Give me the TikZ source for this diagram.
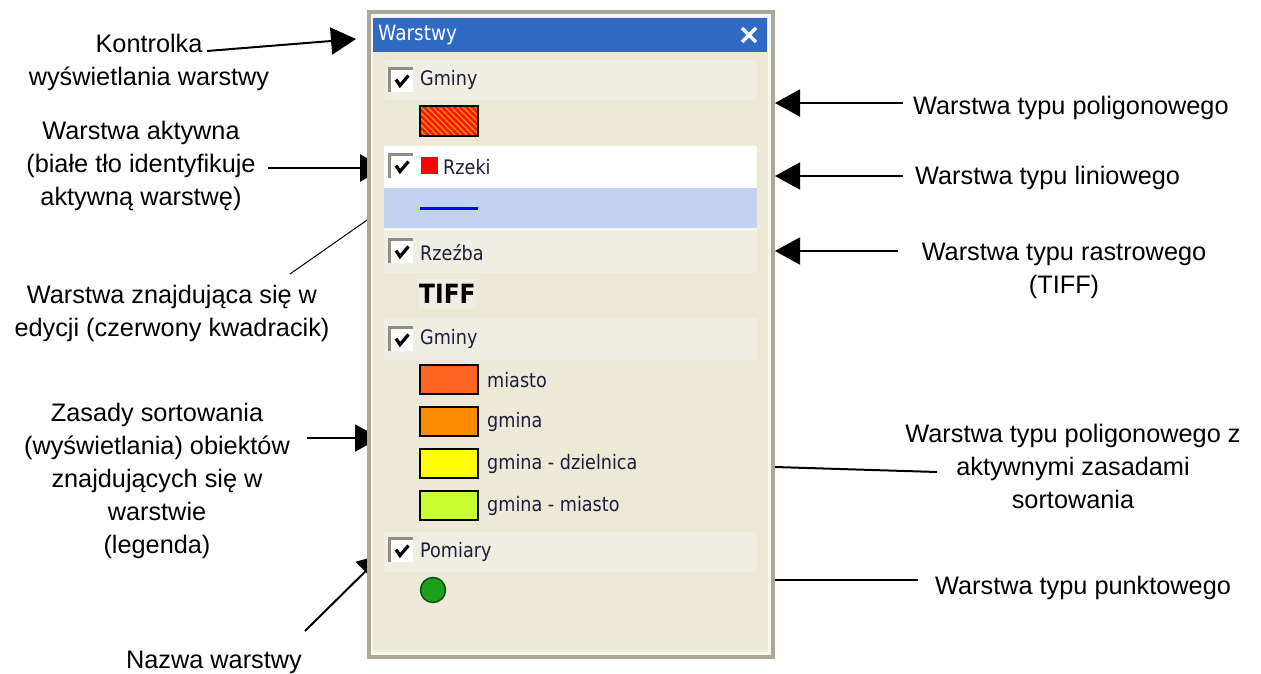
\documentclass[tikz,border=0pt]{standalone}
\usepackage{fontspec}
\setmainfont{Liberation Sans}
\newfontfamily\uifont[FakeStretch=0.88]{DejaVu Sans}
\usetikzlibrary{arrows.meta}
\definecolor{panelgray}{HTML}{ACA899}
\definecolor{bodybg}{HTML}{ECE9D8}
\definecolor{bandbg}{HTML}{F0EEE3}
\definecolor{titleblue}{HTML}{316AC5}
\definecolor{selbg}{HTML}{C1D3EF}
\definecolor{cbgray}{HTML}{8F8D84}
\definecolor{uitext}{HTML}{1E1E3C}
\definecolor{hatchred}{HTML}{FF1200}
\definecolor{hatchstripe}{HTML}{FF9A00}
\definecolor{cmiasto}{HTML}{FF6623}
\definecolor{cgmina}{HTML}{FF8C00}
\definecolor{cdziel}{HTML}{FFFF00}
\definecolor{cgmiasto}{HTML}{C8FF32}
\definecolor{ptgreen}{HTML}{1C9F1C}
\definecolor{ptdark}{HTML}{0E4D0E}
\definecolor{tiffbg}{HTML}{EFEDE4}
\tikzset{
  lbl/.style={font=\fontsize{25.3}{33}\selectfont, align=center, inner sep=0pt, text=black},
  arr/.style={line width=2pt, -{Triangle[length=25pt,width=27pt]}},
  plainline/.style={line width=2pt},
  thinline/.style={line width=1pt},
  ui/.style={font=\uifont\fontsize{20}{20}\selectfont, text=uitext, inner sep=0pt, anchor=west},
  swatch/.style={draw=black, line width=1.5pt},
  chkbox/.pic={
    \fill[white] (0,0) rectangle (25,25);
    \draw[cbgray, line width=3pt] (1.5,25) -- (1.5,1.5) -- (25,1.5);
    \draw[black, line width=3.2pt, line join=miter] (8,12.5) -- (12,18.5) -- (20.5,8.5);
  }
}
\begin{document}
\begin{tikzpicture}[x=1pt,y=-1pt]
\useasboundingbox (0,0) rectangle (1261,674);
\fill[white] (0,0) rectangle (1261,674);

% ---------- left labels ----------
\node[lbl] (kontr) at (149,62) {Kontrolka\\wyświetlania warstwy};
\node[lbl] (aktyw) at (141,166) {Warstwa aktywna\\(białe tło identyfikuje\\aktywną warstwę)};
\node[lbl] (edyc) at (172,313) {Warstwa znajdująca się w\\edycji (czerwony kwadracik)};
\node[lbl] (zasady) at (157,481) {Zasady sortowania\\(wyświetlania) obiektów\\znajdujących się w\\warstwie\\(legenda)};
\node[lbl] (nazwa) at (214,662) {Nazwa warstwy};

% ---------- right labels ----------
\node[lbl, anchor=west] (poli) at (913,108) {Warstwa typu poligonowego};
\node[lbl, anchor=west] (lini) at (915,178) {Warstwa typu liniowego};
\node[lbl] (rast) at (1064,271) {Warstwa typu rastrowego\\(TIFF)};
\node[lbl] (polisort) at (1073,466) {Warstwa typu poligonowego z\\aktywnymi zasadami\\sortowania};
\node[lbl, anchor=west] (punkt) at (935,588) {Warstwa typu punktowego};

% ---------- connector end points ----------
\coordinate (kontrS) at (207,51);
\coordinate (kontrT) at (356,39);
\coordinate (aktywS) at (268,168);
\coordinate (aktywT) at (385,168);
\coordinate (edycS) at (290,274);
\coordinate (edycT) at (430,176);
\coordinate (zasadyS) at (307,438);
\coordinate (zasadyT) at (380,438);
\coordinate (nazwaS) at (305,631);
\coordinate (nazwaT) at (383,554);
\coordinate (poliS) at (903,103);
\coordinate (poliT) at (775,103);
\coordinate (liniS) at (903,176);
\coordinate (liniT) at (775,176);
\coordinate (rastS) at (898,251);
\coordinate (rastT) at (775,251);
\coordinate (polisortS) at (937,472);
\coordinate (polisortT) at (775,467);
\coordinate (punktS) at (918,580);
\coordinate (punktT) at (775,580);

% connectors going behind the panel
\draw[arr] (kontrS) -- (kontrT);
\draw[arr] (aktywS) -- (aktywT);
\draw[thinline] (edycS) -- (edycT);
\draw[arr] (zasadyS) -- (zasadyT);
\draw[arr] (nazwaS) -- (nazwaT);

% ---------- panel ----------
\fill[panelgray] (367,10) rectangle (775,659);
\fill[white!60!bodybg] (371,14) rectangle (771,655);
\fill[bodybg] (373,17) rectangle (768,652);
\fill[titleblue] (373,18) rectangle (767,52);
\node[anchor=west, text=white, font=\uifont\fontsize{21}{21}\selectfont, inner sep=0pt] (title) at (378,35) {Warstwy};
\draw[white, line width=3.2pt] (742,28) -- (756,42) (742,42) -- (756,28);

% row bands
\fill[bandbg] (385,60) rectangle (757,100);
\fill[white] (384,146) rectangle (757,188);
\fill[selbg] (384,188) rectangle (757,228);
\fill[white!50!bodybg] (384,228) rectangle (757,231);
\fill[bandbg] (384,231) rectangle (757,273);
\fill[bandbg] (384,318) rectangle (757,360);
\fill[bandbg] (384,532) rectangle (757,572);

% checkboxes
\pic at (388,67) {chkbox};
\pic at (388,153) {chkbox};
\pic at (388,238) {chkbox};
\pic at (388,326) {chkbox};
\pic at (388,537) {chkbox};

% layer names
\node[ui] (g1) at (420,80) {Gminy};
\fill[red] (421,157) rectangle (438,174);
\node[ui] (rzeki) at (443,167) {Rzeki};
\node[ui] (rzezba) at (420,253) {Rzeźba};
\node[ui] (g2) at (420,339) {Gminy};
\node[ui] (pomiary) at (420,552) {Pomiary};

% polygon hatch swatch
\begin{scope}
  \clip (420,106) rectangle (478,136);
  \fill[hatchred] (420,106) rectangle (478,136);
  \foreach \i in {-36,-30,...,60}
    \draw[hatchstripe, line width=1.1pt] ({420+\i},106) -- ++(32,32);
\end{scope}
\draw[swatch] (420,106) rectangle (478,136);

% line symbol
\draw[blue, line width=3pt] (420,208) -- (478,208);

% raster
\fill[tiffbg] (419,279) rectangle (476,309);
\node[ui, font=\uifont\bfseries\fontsize{26.5}{26.5}\selectfont, text=black] (tiff) at (419,294) {TIFF};

% legend
\draw[swatch, fill=cmiasto] (420,365) rectangle (478,394);
\node[ui] (lmiasto) at (487,380) {miasto};
\draw[swatch, fill=cgmina] (420,407) rectangle (478,436);
\node[ui] (lgmina) at (487,422) {gmina};
\draw[swatch, fill=cdziel] (420,449) rectangle (478,478);
\node[ui] (ldziel) at (487,464) {gmina - dzielnica};
\draw[swatch, fill=cgmiasto] (420,491) rectangle (478,520);
\node[ui] (lgmiasto) at (487,506) {gmina - miasto};

% point symbol
\draw[fill=ptgreen, draw=ptdark, line width=1.5pt] (433,590) circle[radius=12.5pt];

% ---------- right connectors ----------
\draw[arr] (poliS) -- (poliT);
\draw[arr] (liniS) -- (liniT);
\draw[arr] (rastS) -- (rastT);
\draw[plainline] (polisortS) -- (polisortT);
\draw[plainline] (punktS) -- (punktT);
\end{tikzpicture}
\end{document}
